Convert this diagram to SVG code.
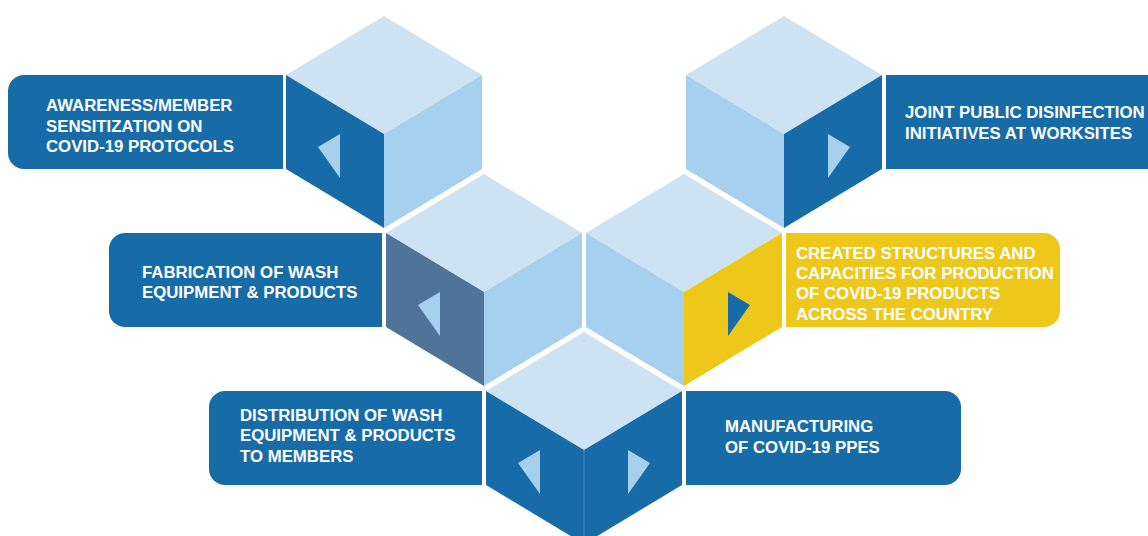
<svg xmlns="http://www.w3.org/2000/svg" width="1148" height="536" viewBox="0 0 1148 536">
<style>
.top{fill:#CDE2F3}
.lt{fill:#A6D0EE}
.dk{fill:#176CA8}
.sl{fill:#4F7497}
.ye{fill:#EEC71B}
.box{fill:#176CA8}
.ybox{fill:#EEC71B}
.t{font-family:"Liberation Sans",Arial,sans-serif;font-weight:bold;font-size:16.8px;fill:#FFFFFF}
</style>
<rect width="1148" height="536" fill="#FFFFFF"/>
<g id="connectors"></g>

<g id="node-awareness">
  <path class="box" d="M283,75 H24 A16,16 0 0 0 8,91 V153 A16,16 0 0 0 24,169 H283 Z"/>
  <g transform="translate(384,16)">
    <polygon class="top" points="0,0 98,59 0,118 -98,59"/>
    <polygon class="dk" points="-98,59 0,118 0,212 -98,153"/>
    <polygon class="lt" points="0,118 98,59 98,153 0,212"/>
    <polygon class="lt" points="-44,118 -66,131 -44,162"/>
  </g>
  <text class="t" x="46" y="111">AWARENESS/MEMBER</text>
  <text class="t" x="46" y="131.5">SENSITIZATION ON</text>
  <text class="t" x="46" y="152">COVID-19 PROTOCOLS</text>
</g>

<g id="node-joint">
  <rect class="box" x="886" y="75" width="270" height="94"/>
  <g transform="translate(784,16)">
    <polygon class="top" points="0,0 98,59 0,118 -98,59"/>
    <polygon class="lt" points="-98,59 0,118 0,212 -98,153"/>
    <polygon class="dk" points="0,118 98,59 98,153 0,212"/>
    <polygon class="lt" points="44,118 66,131 44,162"/>
  </g>
  <text class="t" x="905" y="118">JOINT PUBLIC DISINFECTION</text>
  <text class="t" x="905" y="139">INITIATIVES AT WORKSITES</text>
</g>

<g id="node-fabrication">
  <path class="box" d="M382,233 H125 A16,16 0 0 0 109,249 V311 A16,16 0 0 0 125,327 H382 Z"/>
  <g transform="translate(484,174)">
    <polygon class="top" points="0,0 98,59 0,118 -98,59"/>
    <polygon class="sl" points="-98,59 0,118 0,212 -98,153"/>
    <polygon class="lt" points="0,118 98,59 98,153 0,212"/>
    <polygon class="lt" points="-44,118 -66,131 -44,162"/>
  </g>
  <text class="t" x="142" y="278">FABRICATION OF WASH</text>
  <text class="t" x="142" y="298">EQUIPMENT &amp; PRODUCTS</text>
</g>

<g id="node-structures">
  <path class="ybox" d="M786,233 H1044 A16,16 0 0 1 1060,249 V311 A16,16 0 0 1 1044,327 H786 Z"/>
  <g transform="translate(684,174)">
    <polygon class="top" points="0,0 98,59 0,118 -98,59"/>
    <polygon class="lt" points="-98,59 0,118 0,212 -98,153"/>
    <polygon class="ye" points="0,118 98,59 98,153 0,212"/>
    <polygon class="dk" points="44,118 66,131 44,162"/>
  </g>
  <text class="t" x="796" y="259">CREATED STRUCTURES AND</text>
  <text class="t" x="796" y="279">CAPACITIES FOR PRODUCTION</text>
  <text class="t" x="796" y="299">OF COVID-19 PRODUCTS</text>
  <text class="t" x="796" y="320">ACROSS THE COUNTRY</text>
</g>

<g id="node-bottom-cube">
  <g transform="translate(584,332)">
    <polygon class="top" points="0,0 98,59 0,118 -98,59"/>
    <polygon class="dk" points="-98,59 0,118 0,212 -98,153"/>
    <polygon class="dk" points="0,118 98,59 98,153 0,212"/>
    <line x1="0" y1="118" x2="0" y2="212" stroke="#3F86BC" stroke-width="1"/>
    <polygon class="lt" points="-44,118 -66,131 -44,162"/>
    <polygon class="lt" points="44,118 66,131 44,162"/>
  </g>
</g>

<g id="node-distribution">
  <path class="box" d="M482,391 H225 A16,16 0 0 0 209,407 V469 A16,16 0 0 0 225,485 H482 Z"/>
  <text class="t" x="240" y="421">DISTRIBUTION OF WASH</text>
  <text class="t" x="240" y="441">EQUIPMENT &amp; PRODUCTS</text>
  <text class="t" x="240" y="462">TO MEMBERS</text>
</g>

<g id="node-manufacturing">
  <path class="box" d="M686,391 H945 A16,16 0 0 1 961,407 V469 A16,16 0 0 1 945,485 H686 Z"/>
  <text class="t" x="725" y="432">MANUFACTURING</text>
  <text class="t" x="725" y="453">OF COVID-19 PPES</text>
</g>
</svg>
